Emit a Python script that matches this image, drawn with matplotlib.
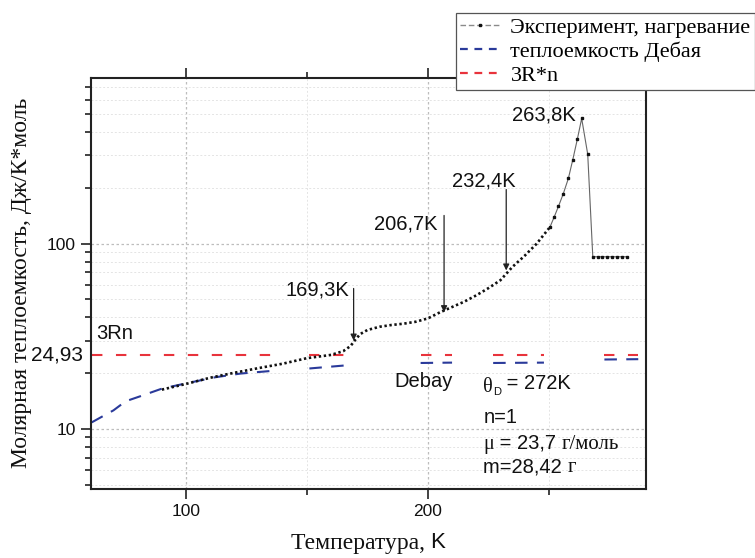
import numpy as np
import matplotlib
matplotlib.use('Agg')
import matplotlib.pyplot as plt
from matplotlib.lines import Line2D
from matplotlib.ticker import FixedLocator, NullFormatter, LogLocator, FixedFormatter
from matplotlib.offsetbox import TextArea, HPacker, AnnotationBbox

SANS = 'Liberation Sans'
SERIF = 'Liberation Serif'

# experimental heat capacity, heating run (dense part drawn as dotted line)
t_exp = [90, 100, 110, 120, 130, 140, 150, 160, 165, 168, 170, 172, 175, 180, 185,
         190, 195, 200, 205, 210, 215, 220, 225, 230, 235, 240, 245, 250.5]
c_exp = [16.3, 17.5, 18.9, 20.1, 21.3, 22.5, 24.1, 25.1, 26.3, 28.0, 30.3, 32.5, 34.2,
         35.6, 36.4, 37.0, 37.9, 39.5, 42.6, 45.5, 48.6, 52.6, 57.5, 63.5, 75.0, 86.0,
         100.0, 123.0]

# peak region, separate measured points
t_peak = [250.5, 252.3, 254.0, 256.0, 258.1, 259.9, 261.8, 263.6, 266.1, 268.2,
          270.2, 272.2, 274.2, 276.2, 278.2, 280.2, 282.2]
c_peak = [123, 140, 159, 186, 225, 283, 366, 474, 304, 85,
          85, 85, 85, 85, 85, 85, 85]

# Debye heat capacity (theta_D = 272 K), gaps where no points
t_deb = [61, 65, 70, 75, 81, 90, 99, 112, 122.5, 136, np.nan,
         151, 169, np.nan, 197, 210, np.nan, 227, 248, np.nan, 273, 287]
c_deb = [10.85, 11.6, 12.6, 14.1, 15.0, 16.5, 17.5, 19.0, 19.9, 20.6, np.nan,
         21.2, 22.2, np.nan, 22.7, 22.8, np.nan, 22.7, 22.8, np.nan, 23.7, 23.8]

# 3R*n level
t_3r = [61, 136, np.nan, 151, 170, np.nan, 197, 210, np.nan, 227, 248, np.nan, 273, 287]
c_3r = [24.93, 24.93, np.nan, 24.93, 24.93, np.nan, 24.93, 24.93, np.nan,
        24.93, 24.93, np.nan, 24.93, 24.93]

# transition marks: (T, arrow start, arrow tip)
marks = [(169.3, 57.3, 30.0), (206.7, 142, 42.7), (232.4, 196, 71.7)]
mark_labels = ['169,3K', '206,7K', '232,4K']
mark_text_pos = [(167.4, 56.0), (204.0, 128.3), (236.3, 218.0)]

red = '#e8333c'
blue = '#2a3a9a'
ink = '#111111'

fig = plt.figure(figsize=(7.55, 5.58), dpi=100)
ax = fig.add_axes([91 / 755, 1 - 489 / 558, 555 / 755, 410.7 / 558])
ax.set_yscale('log')
ax.set_xlim(60.7, 290.2)
ax.set_ylim(4.74, 781)

# grid
ax.grid(which='major', color='#bdbdbd', linestyle=(0, (2, 2)), lw=0.9)
ax.grid(which='minor', color='#e4e4e4', linestyle=(0, (2, 2)), lw=0.7)
ax.set_axisbelow(True)

ax.plot(t_3r, c_3r, color=red, lw=1.5, linestyle=(0, (5, 6.5)))
ax.plot(t_deb, c_deb, color=blue, lw=1.5, linestyle=(0, (6, 4.5)))
ax.plot(t_exp, c_exp, color=ink, lw=1.9, linestyle=(0, (0.9, 1.0)))
ax.plot(t_peak, c_peak, color='#666666', lw=0.8, marker='s', ms=1.7,
        mfc=ink, mec=ink)

for (t, y0, y1), lab, (tx, ty) in zip(marks, mark_labels, mark_text_pos):
    ax.annotate('', xy=(t, y1), xytext=(t, y0),
                arrowprops=dict(arrowstyle='-|>', color='#222222', lw=0.9,
                                mutation_scale=9, shrinkA=0, shrinkB=0))
    ax.text(tx, ty, lab, family=SANS, size=14.5, ha='right', va='center', color=ink)

ax.text(261.2, 494, '263,8K', family=SANS, size=14.5, ha='right', va='center', color=ink)
ax.text(63.0, 32.6, '3Rn', family=SANS, size=14.5, ha='left', va='center', color=ink)
ax.text(186.3, 18.0, 'Debay', family=SANS, size=14.5, ha='left', va='center', color=ink)

# theta_D line
th = ax.text(222.9, 16.8, 'θ', family=SERIF, size=14.5, ha='left', va='center', color=ink)
ax.annotate('D', xy=(1, 0), xycoords=th, xytext=(0, 0), textcoords='offset points',
            family=SANS, size=8, ha='left', va='bottom', color=ink)
ax.annotate(' = 272K', xy=(1, 0), xycoords=th, xytext=(6, 3), textcoords='offset points',
            family=SANS, size=14.5, ha='left', va='bottom', color=ink)


def mixed(pieces, xy, coords='data', align=(0, 0.5)):
    boxes = [TextArea(s, textprops=dict(family=f, size=sz, color=ink)) for s, f, sz in pieces]
    pack = HPacker(children=boxes, align='baseline', pad=0, sep=0)
    ab = AnnotationBbox(pack, xy, xycoords=coords, box_alignment=align, frameon=False, pad=0)
    ax.add_artist(ab)


ax.text(222.9, 11.47, 'n=1', family=SANS, size=14.5, ha='left', va='center', color=ink)
mixed([('μ', SERIF, 14.5), (' = 23,7 ', SANS, 14.5), ('г/моль', SERIF, 15)], (222.9, 8.30))
mixed([('m=28,42 ', SANS, 14.5), ('г', SERIF, 15)], (222.9, 6.20))

# axes styling
for s in ax.spines.values():
    s.set_linewidth(1.5)
    s.set_color('#222222')

ax.xaxis.set_major_locator(FixedLocator([100, 200]))
ax.xaxis.set_minor_locator(FixedLocator([150, 250]))
ax.xaxis.set_major_formatter(FixedFormatter(['100', '200']))
ax.yaxis.set_major_locator(FixedLocator([10, 100]))
ax.yaxis.set_major_formatter(FixedFormatter(['10', '100']))
ax.yaxis.set_minor_locator(LogLocator(base=10, subs=np.arange(2, 10)))
ax.yaxis.set_minor_formatter(NullFormatter())
ax.tick_params(axis='x', which='both', direction='out', top=True, bottom=True,
               labeltop=False, color='#222222', width=1.2)
ax.tick_params(axis='y', which='both', direction='out', left=True, right=False,
               color='#222222', width=1.2)
ax.tick_params(which='major', length=7, labelsize=12.5, pad=4)
ax.tick_params(which='minor', length=4.5)
for lab in ax.get_xticklabels() + ax.get_yticklabels():
    lab.set_family(SANS)
    lab.set_color(ink)

ax.text(-0.014, 24.93, '24,93', transform=ax.get_yaxis_transform(), family=SANS,
        size=15, ha='right', va='center', color=ink)

fig.text(22 / 755, 1 - 283 / 558, 'Молярная теплоемкость, Дж/К*моль', family=SERIF,
         size=17, rotation=90, ha='center', va='center', color=ink)
mixed([('Температура, ', SERIF, 17), ('K', SANS, 16)], (368 / 755, 1 - 543 / 558),
      coords='figure fraction', align=(0.5, 0.5))

handles = [
    Line2D([], [], color='#8a8a8a', lw=1.0, linestyle=(0, (4, 2)), marker='s', ms=1.8,
           mfc=ink, mec=ink),
    Line2D([], [], color=blue, lw=1.6, linestyle=(0, (3.5, 3))),
    Line2D([], [], color=red, lw=1.6, linestyle=(0, (3.5, 3))),
]
labels = ['Эксперимент, нагревание', 'теплоемкость Дебая', '3R*n']
leg = fig.legend(handles, labels, loc='upper left', bbox_to_anchor=(456 / 755, 1 - 13 / 558),
                 bbox_transform=fig.transFigure, prop={'family': SERIF, 'size': 16},
                 frameon=True, fancybox=False, edgecolor='#555555', framealpha=1,
                 handlelength=1.75, handletextpad=0.5, borderpad=0.2, labelspacing=0.15,
                 borderaxespad=0, numpoints=1)
leg.get_frame().set_linewidth(0.9)

fig.savefig('out.png', dpi=100)
